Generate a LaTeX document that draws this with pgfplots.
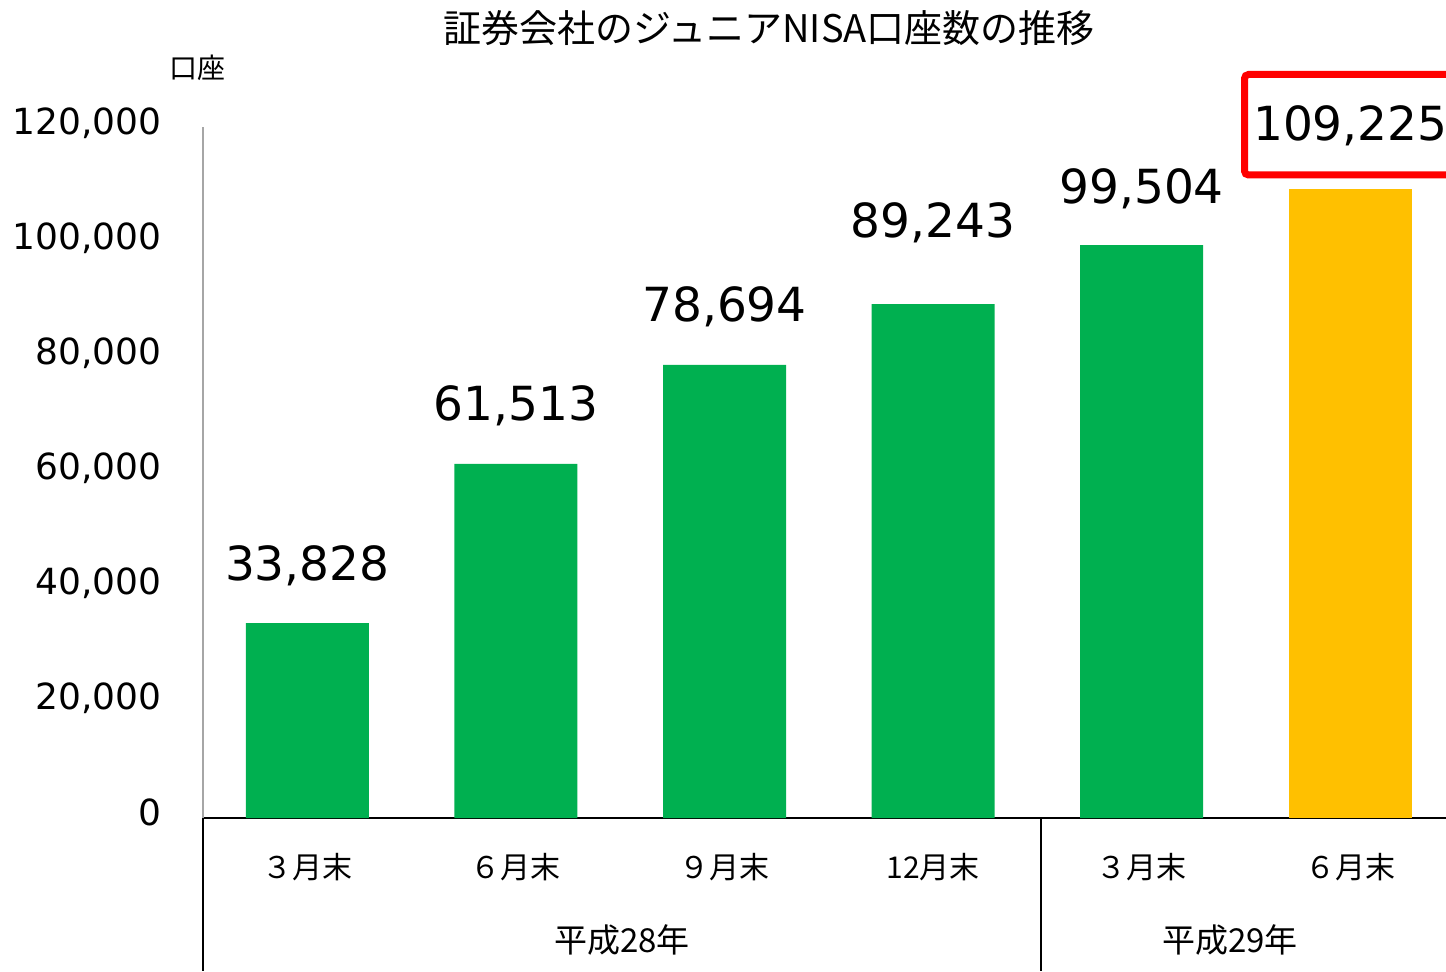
\documentclass[border=0pt]{standalone}
\usepackage{fontspec}
\usepackage{pgfplots}
\pgfplotsset{compat=1.18}
\usepackage{pgfplotstable}
\setmainfont{DejaVu Sans}
\newfontfamily\jp{Noto Sans CJK JP}
\definecolor{bargreen}{HTML}{00B050}
\definecolor{baryellow}{HTML}{FFC000}
\definecolor{axisgray}{HTML}{A6A6A6}
\pgfplotstableread{
x y off
0 33828 21.5
1 61513 21.5
2 78694 21.5
3 89243 33.5
4 99504 21
}\greendata
\pgfplotstableread{
x y off
5 109225 24.5
}\yellowdata
\begin{document}
\begin{tikzpicture}
\useasboundingbox (-101.5pt,-76.5pt) rectangle (621.5pt,409pt);
\begin{axis}[
  at={(0pt,0pt)}, anchor=south west,
  scale only axis,
  width=625.8pt, height=345.5pt,
  xmin=-0.5, xmax=5.5, ymin=0, ymax=120000,
  axis lines*=left,
  axis line style={-},
  x axis line style={black, line width=1pt},
  y axis line style={axisgray, line width=0.8pt},
  major tick length=0pt,
  ytick={0,20000,40000,60000,80000,100000,120000},
  scaled y ticks=false,
  /pgf/number format/.cd, fixed, 1000 sep={,}, assume math mode=true,
  /pgfplots/.cd,
  yticklabel style={font=\fontsize{18}{18}\selectfont, anchor=base east, inner sep=0pt, xshift=-20.5pt, yshift=-3.5pt},
  xtick={0,1,2,3,4,5},
  xticklabels={３月末,６月末,９月末,12月末,３月末,６月末},
  xticklabel style={font=\jp\fontsize{15}{15}\selectfont, anchor=center, inner sep=0pt, yshift=-24.5pt},
  clip=false,
  ybar, bar width=61.5pt, bar shift=0pt,
  nodes near coords,
  point meta=y,
  visualization depends on={\thisrow{off} \as \off},
  nodes near coords style={font=\fontsize{23.5}{23.5}\selectfont, anchor=base, inner sep=0pt, yshift=\off*1pt,
    /pgf/number format/.cd, fixed, 1000 sep={,}, assume math mode=true},
]
\addplot[fill=bargreen, draw=none] table[x=x, y=y] {\greendata};
\addplot[fill=baryellow, draw=none] table[x=x, y=y] {\yellowdata};
\end{axis}
% category separators
\draw[black, line width=1pt] (0pt,0pt) -- (0pt,-76.5pt);
\draw[black, line width=1pt] (419pt,0pt) -- (419pt,-76.5pt);
% year labels
\node[font=\jp\fontsize{16.5}{16.5}\selectfont, inner sep=0pt] at (209.5pt,-61pt) {平成28年};
\node[font=\jp\fontsize{16.5}{16.5}\selectfont, inner sep=0pt] at (513.5pt,-61pt) {平成29年};
% title and unit
\node[font=\jp\fontsize{19}{19}\selectfont, inner sep=0pt] at (283pt,395pt) {証券会社のジュニアNISA口座数の推移};
\node[font=\jp\fontsize{14}{14}\selectfont, inner sep=0pt] at (-2.5pt,375pt) {口座};
% highlight box
\draw[red, line width=3.5pt, rounded corners=2pt] (640pt,371.75pt) -- (520.75pt,371.75pt) -- (520.75pt,321.5pt) -- (640pt,321.5pt);
\end{tikzpicture}
\end{document}
